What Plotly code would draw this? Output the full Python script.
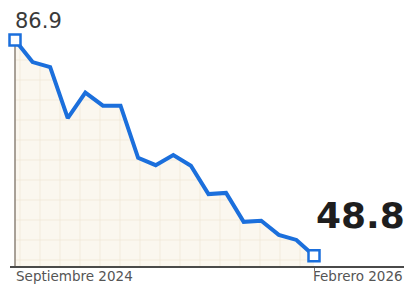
import plotly.graph_objects as go

months = ["Sep 2024", "Oct 2024", "Nov 2024", "Dic 2024", "Ene 2025", "Feb 2025",
          "Mar 2025", "Abr 2025", "May 2025", "Jun 2025", "Jul 2025", "Ago 2025",
          "Sep 2025", "Oct 2025", "Nov 2025", "Dic 2025", "Ene 2026", "Feb 2026"]
values = [86.9, 83.0, 82.1, 73.1, 77.6, 75.3, 75.3, 66.1, 64.8, 66.6, 64.7,
          59.7, 59.9, 54.8, 55.0, 52.5, 51.6, 48.8]
start_label = "Septiembre 2024"
end_label = "Febrero 2026"

idx = list(range(len(values)))
ymin, ymax = 47.0, 88.66

fig = go.Figure()
# filled area with grid pattern
fig.add_trace(go.Scatter(
    x=idx, y=values, mode="none", fill="tozeroy",
    fillcolor="#fbf7ef",
    fillpattern=dict(shape="+", size=20, solidity=0.08,
                     fgcolor="#e6d8c0", bgcolor="#fbf7ef"),
    hoverinfo="skip", showlegend=False))
# vertical axis line from first point down
fig.add_trace(go.Scatter(
    x=[idx[0], idx[0]], y=[values[0], ymin], mode="lines",
    line=dict(color="#8c8378", width=1.5), hoverinfo="skip", showlegend=False))
# main line
fig.add_trace(go.Scatter(
    x=idx, y=values, mode="lines",
    line=dict(color="#1b6fdc", width=4), showlegend=False, cliponaxis=False))
# end markers
fig.add_trace(go.Scatter(
    x=[idx[0], idx[-1]], y=[values[0], values[-1]], mode="markers",
    marker=dict(symbol="square", size=11, color="#ffffff",
                line=dict(color="#1b6fdc", width=2.5)),
    showlegend=False, cliponaxis=False))

fig.add_annotation(x=idx[0], y=values[0], text=f"{values[0]:.1f}",
                   xanchor="left", yanchor="middle", xshift=-2, yshift=19,
                   showarrow=False,
                   font=dict(family="DejaVu Sans, sans-serif", size=21, color="#3a3a3a"))
fig.add_annotation(x=idx[-1], y=values[-1], text=f"<b>{values[-1]:.1f}</b>",
                   xanchor="left", yanchor="middle", xshift=0, yshift=40,
                   showarrow=False,
                   font=dict(family="DejaVu Sans, sans-serif", size=36, color="#1e1e1e"))
fig.add_annotation(x=idx[0], y=0, yref="paper", text=start_label,
                   xanchor="left", yanchor="top", xshift=-1, yshift=0,
                   showarrow=False,
                   font=dict(family="DejaVu Sans, sans-serif", size=13.5, color="#555555"))
fig.add_annotation(x=idx[-1], y=0, yref="paper", text=end_label,
                   xanchor="left", yanchor="top", xshift=-3, yshift=0,
                   showarrow=False,
                   font=dict(family="DejaVu Sans, sans-serif", size=13.5, color="#555555"))

fig.update_layout(
    width=404, height=284,
    margin=dict(l=10, r=0, t=30, b=18),
    paper_bgcolor="white", plot_bgcolor="white",
    xaxis=dict(range=[-0.284, 22.117], showgrid=False, zeroline=False,
               showline=True, linecolor="#4a4a4a", linewidth=1.5,
               tickvals=[idx[-1]], ticks="outside", ticklen=3, tickcolor="#777",
               showticklabels=False, fixedrange=True),
    yaxis=dict(range=[ymin, ymax], showgrid=False, zeroline=False,
               showline=False, showticklabels=False, fixedrange=True),
)

fig.write_html("out.html", config={"displayModeBar": False},
               post_script="document.body.style.margin='0';document.body.style.overflow='hidden';")
